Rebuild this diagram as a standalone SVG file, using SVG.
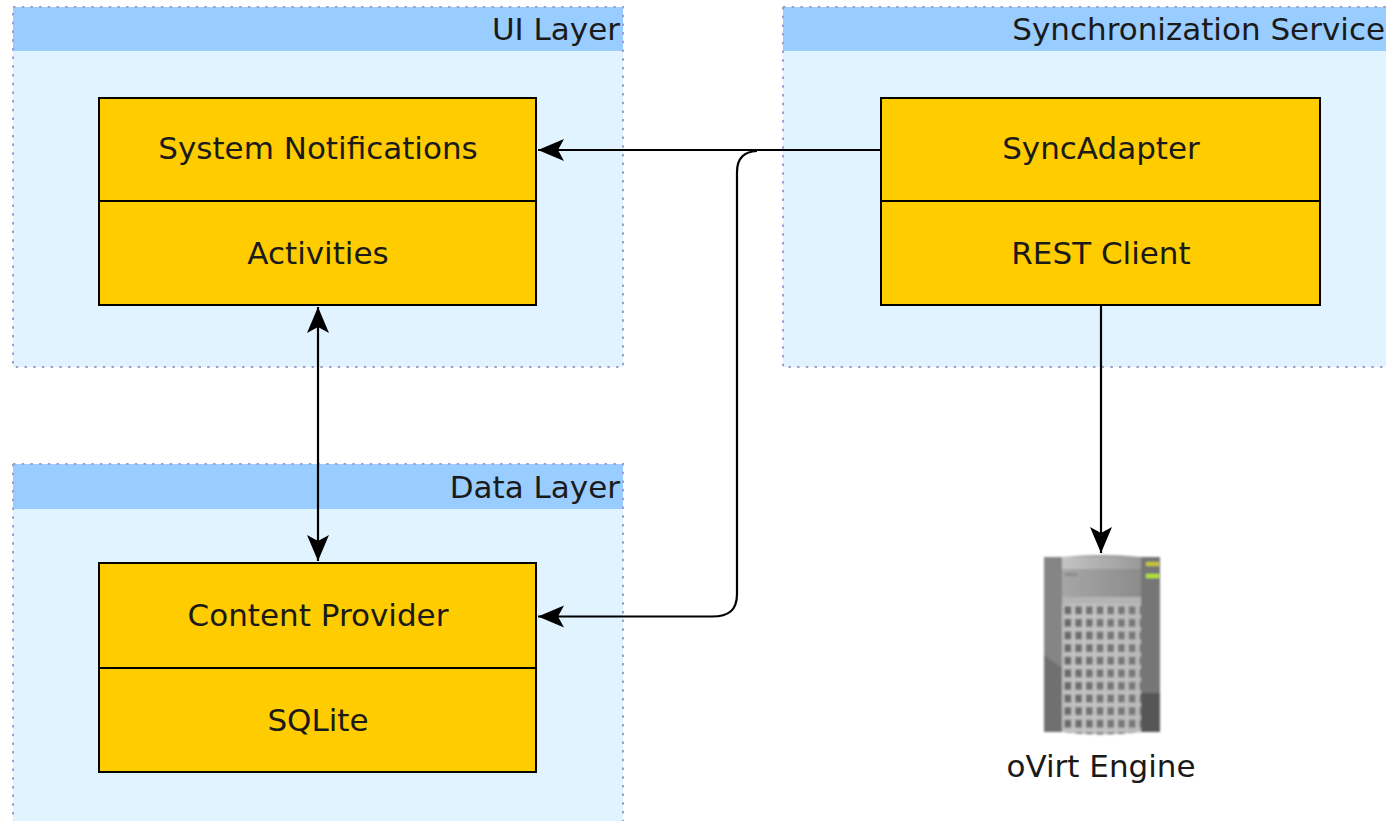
<svg xmlns="http://www.w3.org/2000/svg" width="1386" height="821" viewBox="0 0 1386 821">
<style>
.bg{fill:#e1f3ff}
.lane{fill:none;stroke:#9f9fcc;stroke-width:2;stroke-dasharray:2.5 6.2}
.head{fill:#99ccff}
.box{fill:#ffcc00;stroke:#000;stroke-width:2}
text{font-family:"DejaVu Sans",sans-serif;font-size:31px;fill:#1a1a1a}
.m{text-anchor:middle}
.e{text-anchor:end}
.c{fill:none;stroke:#000;stroke-width:2.2}
</style>
<defs>
<marker id="a" markerUnits="userSpaceOnUse" markerWidth="28" markerHeight="24" refX="26" refY="12" orient="auto-start-reverse">
<path d="M0 1 L26 12 L0 23 L6 12 Z" fill="#000"/>
</marker>
<linearGradient id="sv" x1="0" x2="1" y1="0" y2="0"><stop offset="0" stop-color="#c4c4c4"/><stop offset="1" stop-color="#999"/></linearGradient>
<linearGradient id="sf" x1="0" x2="1" y1="0" y2="0"><stop offset="0" stop-color="#a6a6a6"/><stop offset="1" stop-color="#8c8c8c"/></linearGradient>
<linearGradient id="fade" x1="0" x2="1" y1="0" y2="0"><stop offset="0" stop-color="#fff" stop-opacity="0"/><stop offset="1" stop-color="#aaa" stop-opacity="0.25"/></linearGradient>
<pattern id="grid" x="1062.500" y="604" width="10.7" height="12.6" patternUnits="userSpaceOnUse">
<rect width="10.7" height="12.6" fill="#c0c0c0"/><rect x="2" y="2.300" width="6.800" height="8" fill="#666"/>
</pattern>
<filter id="soft" x="-5%" y="-5%" width="110%" height="110%"><feGaussianBlur stdDeviation="0.9"/></filter>
</defs>
<g id="ui-layer">
<rect class="bg" x="13" y="7" width="610" height="360"/>
<rect class="head" x="13" y="7" width="610" height="44"/>
<rect class="lane" x="13" y="7" width="610" height="360"/>
<text class="e" x="620" y="40">UI Layer</text>
</g>
<g id="sync-service">
<rect class="bg" x="783" y="7" width="620" height="360"/>
<rect class="head" x="783" y="7" width="620" height="44"/>
<rect class="lane" x="783" y="7" width="620" height="360"/>
<text class="e" x="1385" y="40">Synchronization Service</text>
</g>
<g id="data-layer">
<rect class="bg" x="13" y="464" width="610" height="370"/>
<rect class="head" x="13" y="464" width="610" height="45"/>
<rect class="lane" x="13" y="464" width="610" height="370"/>
<text class="e" x="620" y="498">Data Layer</text>
</g>
<g id="system-notifications">
<rect class="box" x="99" y="98" width="437" height="103"/>
<text class="m" x="318" y="159">System Notifications</text>
</g>
<g id="activities">
<rect class="box" x="99" y="201" width="437" height="104"/>
<text class="m" x="318" y="264">Activities</text>
</g>
<g id="sync-adapter">
<rect class="box" x="881" y="98" width="439" height="103"/>
<text class="m" x="1101" y="159">SyncAdapter</text>
</g>
<g id="rest-client">
<rect class="box" x="881" y="201" width="439" height="104"/>
<text class="m" x="1101" y="264">REST Client</text>
</g>
<g id="content-provider">
<rect class="box" x="99" y="563" width="437" height="105"/>
<text class="m" x="318" y="626">Content Provider</text>
</g>
<g id="sqlite">
<rect class="box" x="99" y="668" width="437" height="104"/>
<text class="m" x="318" y="731">SQLite</text>
</g>
<g id="ovirt-engine">
<g filter="url(#soft)">
<rect x="1044" y="557" width="116" height="175" fill="#7c7c7c"/>
<rect x="1044" y="557" width="18" height="175" fill="#858585"/>
<path d="M1044 655 L1062 668 V732 H1044 Z" fill="#707070"/>
<rect x="1141" y="557" width="19" height="175" fill="#767676"/>
<rect x="1141" y="693" width="19" height="39" fill="#565656"/>
<path d="M1062 597 V557 Q1101 553 1141 557 V597 Z" fill="url(#sf)"/>
<rect x="1062" y="557" width="79" height="12" fill="url(#sv)"/>
<rect x="1065" y="573" width="12" height="3" fill="#8a8a8a"/>
<rect x="1062" y="597" width="79" height="7" fill="#b4b4b4"/>
<path d="M1062 604 H1141 V732 Q1101 737 1062 732 Z" fill="url(#grid)"/>
<path d="M1062 604 H1141 V732 Q1101 737 1062 732 Z" fill="url(#fade)"/>
<rect x="1146" y="562" width="13" height="4" fill="#c8c832"/>
<rect x="1146" y="574" width="13" height="4" fill="#b8e620"/>
</g>
<text class="m" x="1101" y="777">oVirt Engine</text>
</g>
<g id="connectors">
<path class="c" d="M881 150 H538" marker-end="url(#a)"/>
<path class="c" d="M757 151 C745 151.500 737 157 737 172 V594 C737 610 729 616.500 712 616.500 H538" marker-end="url(#a)"/>
<path class="c" d="M318 307 V561" marker-start="url(#a)" marker-end="url(#a)"/>
<path class="c" d="M1101 305 V553" marker-end="url(#a)"/>
</g>
</svg>
